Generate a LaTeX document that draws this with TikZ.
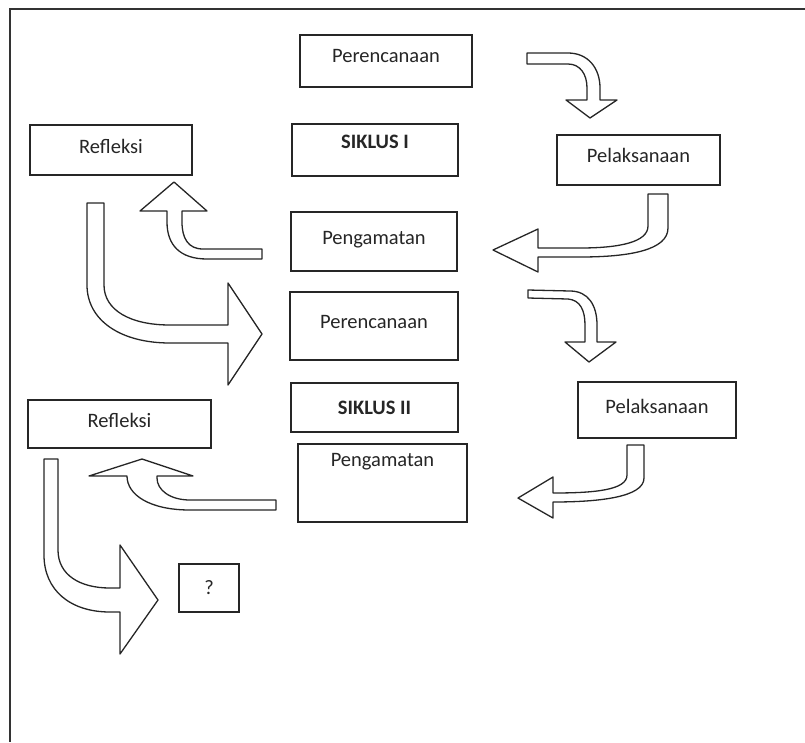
\documentclass[tikz,border=0pt]{standalone}
\usepackage{fontspec}
\setmainfont{Carlito}
\begin{document}
\begin{tikzpicture}[x=1pt,y=-1pt,
  box/.style={draw=black!85, line width=1.3pt, fill=white, inner sep=0pt},
  lbl/.style={font=\fontsize{20.5}{24}\selectfont, text=black!85, inner sep=0pt},
  blbl/.style={font=\fontsize{20.5}{24}\selectfont\bfseries, text=black!85, inner sep=0pt},
  barrow/.style={draw=black!85, line width=1.3pt, fill=white, line join=round},
  frame/.style={draw=black!80, line width=1.6pt}]
\useasboundingbox (0,0) rectangle (805,742);
% frame (only top and left edges visible)
\draw[frame] (805,9) -- (10,9) -- (10,742);

% boxes
\node[box, minimum width=172pt, minimum height=52pt, label={[lbl,yshift=5pt]center:Perencanaan}] (p1) at (386,61) {};
\node[box, minimum width=162pt, minimum height=50pt, label={[lbl,yshift=4pt]center:Refleksi}] (r1) at (111,150) {};
\node[box, minimum width=166pt, minimum height=52pt, label={[blbl,yshift=8pt]center:SIKLUS I}] (s1) at (375,150) {};
\node[box, minimum width=163pt, minimum height=50pt, label={[lbl,yshift=5pt]center:Pelaksanaan}] (l1) at (638.5,160) {};
\node[box, minimum width=166pt, minimum height=59pt, label={[lbl,yshift=1.5pt]center:Pengamatan}] (g1) at (374,241.5) {};
\node[box, minimum width=168pt, minimum height=68pt, label={[lbl,yshift=4pt]center:Perencanaan}] (p2) at (374,326) {};
\node[box, minimum width=167pt, minimum height=49pt, label={[blbl,yshift=0pt]center:SIKLUS II}] (s2) at (374.5,407.5) {};
\node[box, minimum width=158pt, minimum height=56pt, label={[lbl,yshift=4pt]center:Pelaksanaan}] (l2) at (657,410) {};
\node[box, minimum width=183pt, minimum height=48pt, label={[lbl,yshift=4pt]center:Refleksi}] (r2) at (119.5,424) {};
\node[box, minimum width=169pt, minimum height=78pt, label={[lbl,yshift=21pt]center:Pengamatan}] (g2) at (382.5,483) {};
\node[box, minimum width=60pt, minimum height=48pt, label={[lbl]center:?}] (q) at (209,588) {};

% block arrows
% Perencanaan -> Pelaksanaan (cycle I)
\draw[barrow] (527,53) -- (568,53) .. controls (588,53) and (600,68) .. (600,88) -- (600,100) -- (617,100) -- (590,118) -- (566,100) -- (587,100) -- (587,88) .. controls (587,74) and (580,64) .. (568,64) -- (527,64) -- cycle;
% Pelaksanaan -> Pengamatan (cycle I)
\draw[barrow] (648,194) -- (668,194) -- (668,228) .. controls (668,250) and (630,257) .. (580,257) -- (538,257) -- (538,272) -- (493,250) -- (538,229) -- (538,248) -- (580,248) .. controls (620,248) and (648,242) .. (648,226) -- cycle;
% Pengamatan -> Refleksi (cycle I)
\draw[barrow] (262,249) -- (203,249) .. controls (188,249) and (182,238) .. (182,222) -- (182,211) -- (207,211) -- (174,182) -- (140,211) -- (167,211) -- (167,222) .. controls (167,245) and (180,259) .. (207,259) -- (262,259) -- cycle;
% Refleksi -> Perencanaan (cycle II)
\draw[barrow] (87,203) -- (104,203) -- (104,285) .. controls (104,310) and (130,325) .. (170,325) -- (228,325) -- (228,283) -- (262,334) -- (228,385) -- (228,343) -- (170,343) .. controls (120,343) and (87,320) .. (87,285) -- cycle;
% Perencanaan -> Pelaksanaan (cycle II)
\draw[barrow] (528,290) -- (570,291) .. controls (588,291) and (597,305) .. (597,325) -- (597,342) -- (616,342) -- (589,362) -- (565,342) -- (585,342) -- (585,325) .. controls (585,310) and (580,300) .. (568,299) -- (528,298) -- cycle;
% Pelaksanaan -> Pengamatan (cycle II)
\draw[barrow] (627,445) -- (644,445) -- (644,478) .. controls (644,497) and (600,502) .. (553,502) -- (553,518) -- (518,498) -- (553,477) -- (553,493) .. controls (595,493) and (627,490) .. (627,475) -- cycle;
% Pengamatan -> Refleksi (cycle II)
\draw[barrow] (276,500) -- (190,500) .. controls (170,500) and (157,490) .. (157,478) -- (157,476) -- (193,476) -- (142,459) -- (89,476) -- (127,476) .. controls (127,495) and (150,510) .. (190,510) -- (276,510) -- cycle;
% Refleksi -> ?
\draw[barrow] (44,459) -- (58,459) -- (58,550) .. controls (58,575) and (80,588) .. (110,588) -- (120,588) -- (120,545) -- (158,600) -- (120,654) -- (120,612) -- (110,612) .. controls (70,612) and (44,590) .. (44,555) -- cycle;
\end{tikzpicture}
\end{document}
